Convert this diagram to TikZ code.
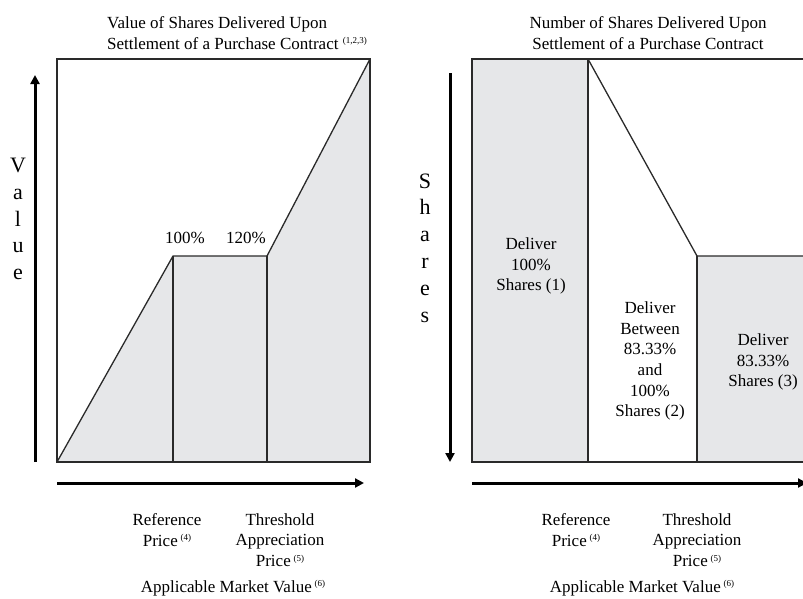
\documentclass[tikz,border=0pt]{standalone}
\usepackage{fontspec}
\setmainfont{Liberation Serif}
\usetikzlibrary{arrows.meta}
\definecolor{ShadeGray}{HTML}{E6E7E9}
\definecolor{FrameGray}{HTML}{2A2A2A}
\newcommand{\fnote}[1]{\raisebox{0.7ex}{\fontsize{9}{9}\selectfont(#1)}}

\begin{document}
\begin{tikzpicture}[x=1pt, y=-1pt,
  txt/.style={font=\fontsize{17}{20.7}\selectfont, align=center, inner sep=0pt},
  axislabel/.style={font=\fontsize{22}{26.8}\selectfont, align=center, inner sep=0pt},
  axis/.style={line width=3pt, -{Triangle[length=9pt, width=9pt]}},
  frame/.style={line width=1.3pt, draw=FrameGray}]
\clip (0,0) rectangle (803,598);

% Left chart: value of shares
\fill[ShadeGray] (57,462) -- (173,256) -- (267,256) -- (370,59) -- (370,462) -- cycle;
\draw[frame] (57,59) rectangle (370,462);
\draw[frame] (57,462) -- (173,256) -- (267,256) -- (370,59);
\draw[frame] (173,256) -- (173,462);
\draw[frame] (267,256) -- (267,462);

\node[txt, align=left, anchor=west] (vtitle) at (107,33) {Value of Shares Delivered Upon\\Settlement of a Purchase Contract \fnote{1,2,3}};
\node[txt] (pct100) at (185,238) {100\%};
\node[txt] (pct120) at (246,238) {120\%};
\node[axislabel] (vlabel) at (18,219) {V\\a\\l\\u\\e};

% Left axes
\coordinate (vbot) at (35,462);
\coordinate (vtop) at (35,75);
\coordinate (hleft) at (57,483);
\coordinate (hright) at (364,483);
\draw[axis] (vbot) -- (vtop);
\draw[axis] (hleft) -- (hright);

\node[txt] (vref) at (167,530) {Reference\\Price\,\fnote{4}};
\node[txt] (vthr) at (280,540) {Threshold\\Appreciation\\Price\,\fnote{5}};
\node[txt] (vamv) at (233,588) {Applicable Market Value\,\fnote{6}};

% Right chart: number of shares
\fill[ShadeGray] (472,59) rectangle (588,462);
\fill[ShadeGray] (697,256) rectangle (810,462);
\draw[frame] (810,59) -- (472,59) -- (472,462) -- (810,462);
\draw[frame] (588,59) -- (588,462);
\draw[frame] (588,59) -- (697,256) -- (810,256);
\draw[frame] (697,256) -- (697,462);

\node[txt] (stitle) at (648,33) {Number of Shares Delivered Upon\\Settlement of a Purchase Contract};
\node[axislabel] (slabel) at (425,248) {S\\h\\a\\r\\e\\s};
\node[txt] (full) at (531,266) {Deliver\\100\%\\Shares (1)};
\node[txt] (between) at (650,361) {Deliver\\Between\\83.33\%\\and\\100\%\\Shares (2)};
\node[txt] (reduced) at (763,362) {Deliver\\83.33\%\\Shares (3)};

% Right axes
\coordinate (stop) at (450,73);
\coordinate (sbot) at (450,462);
\coordinate (rleft) at (472,483);
\coordinate (rright) at (807,483);
\draw[axis] (stop) -- (sbot);
\draw[axis] (rleft) -- (rright);

\node[txt] (sref) at (576,530) {Reference\\Price\,\fnote{4}};
\node[txt] (sthr) at (697,540) {Threshold\\Appreciation\\Price\,\fnote{5}};
\node[txt] (samv) at (642,588) {Applicable Market Value\,\fnote{6}};

\end{tikzpicture}
\end{document}
